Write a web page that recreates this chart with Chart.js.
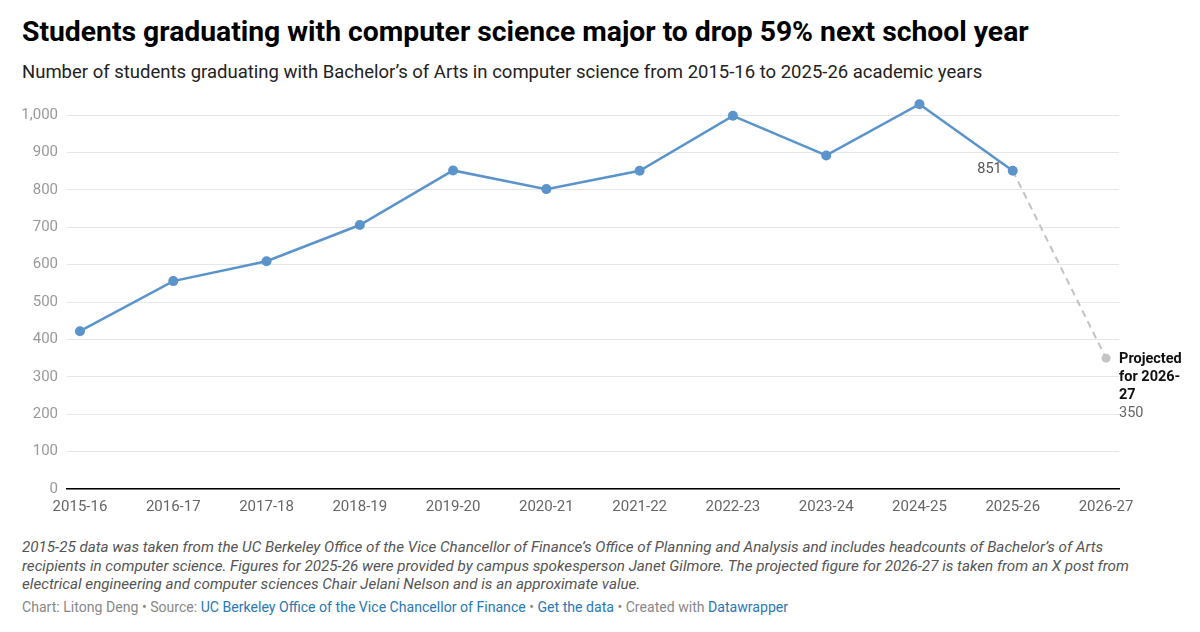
<!DOCTYPE html>
<html>
<head>
<meta charset="utf-8">
<script src="https://cdn.jsdelivr.net/npm/chart.js@4"></script>
<style>
  html, body { margin: 0; padding: 0; background: #fff; }
  body { width: 1200px; height: 632px; position: relative; overflow: hidden; font-family: Roboto, "Noto Sans", sans-serif; }
  #title { position: absolute; left: 22px; top: 15px; font-size: 28.3px; font-weight: 700; color: #000; white-space: nowrap; }
  #subtitle { position: absolute; left: 22px; top: 61px; font-size: 18.5px; color: #222; white-space: nowrap; }
  #chartwrap { position: absolute; left: 0; top: 84px; width: 1200px; height: 441px; }
  #notes { position: absolute; left: 22px; top: 538px; width: 1140px; font-size: 15.2px; line-height: 18.6px; font-style: italic; color: #555; }
  #footer { position: absolute; left: 22px; top: 599px; font-size: 14.1px; color: #888; white-space: nowrap; }
  #footer a { color: #2a78b5; text-decoration: none; }
</style>
</head>
<body>
<div id="title">Students graduating with computer science major to drop 59% next school year</div>
<div id="subtitle">Number of students graduating with Bachelor’s of Arts in computer science from 2015-16 to 2025-26 academic years</div>
<div id="chartwrap"><canvas id="c" width="1200" height="441"></canvas></div>
<div id="notes">2015-25 data was taken from the UC Berkeley Office of the Vice Chancellor of Finance’s Office of Planning and Analysis and includes headcounts of Bachelor’s of Arts recipients in computer science. Figures for 2025-26 were provided by campus spokesperson Janet Gilmore. The projected figure for 2026-27 is taken from an X post from electrical engineering and computer sciences Chair Jelani Nelson and is an approximate value.</div>
<div id="footer">Chart: Litong Deng • Source: <a>UC Berkeley Office of the Vice Chancellor of Finance</a> • <a>Get the data</a> • Created with <a>Datawrapper</a></div>
<script>
const categories = ["2015-16","2016-17","2017-18","2018-19","2019-20","2020-21","2021-22","2022-23","2023-24","2024-25","2025-26","2026-27"];
const graduates = [422, 556, 609, 706, 852, 802, 851, 998, 892, 1029, 851];
const projected = [851, 350];
const projectedStart = 10;
const yTicks = [0,100,200,300,400,500,600,700,800,900,1000];

const mainData = graduates.map((v, i) => ({x: i, y: v}));
const projData = projected.map((v, i) => ({x: projectedStart + i, y: v}));

const labelPlugin = {
  id: 'labels',
  afterDatasetsDraw(chart) {
    const ctx = chart.ctx;
    const xs = chart.scales.x, ys = chart.scales.y;
    ctx.save();
    const lastIdx = graduates.length - 1;
    const px = xs.getPixelForValue(lastIdx), py = ys.getPixelForValue(graduates[lastIdx]);
    ctx.font = '14.5px Roboto, sans-serif';
    ctx.fillStyle = '#555';
    ctx.textAlign = 'right';
    ctx.textBaseline = 'middle';
    ctx.fillText(String(graduates[lastIdx]), px - 11, py - 1);
    const qi = projectedStart + projected.length - 1;
    const qx = xs.getPixelForValue(qi), qy = ys.getPixelForValue(projected[projected.length - 1]);
    ctx.textAlign = 'left';
    ctx.font = 'bold 14.5px Roboto, sans-serif';
    ctx.fillStyle = '#111';
    const lines = ['Projected', 'for 2026-', '27'];
    lines.forEach((l, k) => ctx.fillText(l, qx + 13, qy + 1 + k * 18));
    ctx.font = '14.5px Roboto, sans-serif';
    ctx.fillStyle = '#666';
    ctx.fillText(String(projected[projected.length - 1]), qx + 13, qy + 1 + 3 * 18);
    ctx.restore();
  }
};

new Chart(document.getElementById('c'), {
  type: 'line',
  data: {
    datasets: [
      {
        data: mainData,
        borderColor: '#5a94cb',
        backgroundColor: '#5a94cb',
        borderWidth: 2.5,
        pointRadius: 5,
        pointHoverRadius: 5,
        pointBorderWidth: 0,
        order: 0,
        clip: false
      },
      {
        data: projData,
        borderColor: '#c4c4c4',
        backgroundColor: '#c4c4c4',
        borderWidth: 2,
        borderDash: [7, 5],
        pointRadius: [0, 4.5],
        pointBorderWidth: 0,
        order: 1,
        clip: false
      }
    ]
  },
  options: {
    responsive: false,
    animation: false,
    events: [],
    layout: { padding: { top: 6.4, left: 0, right: 81, bottom: 0 } },
    plugins: { legend: { display: false }, tooltip: { enabled: false } },
    scales: {
      x: {
        type: 'linear',
        min: -0.139,
        max: 11.139,
        afterBuildTicks(scale) { scale.ticks = categories.map((_, i) => ({ value: i })); },
        afterFit(scale) { scale.height = 36; },
        ticks: {
          callback: (v) => categories[v],
          color: '#666',
          font: { family: 'Roboto', size: 15 },
          padding: 9,
          maxRotation: 0,
          autoSkip: false
        },
        grid: { display: false, drawTicks: false },
        border: { display: true, color: '#000', width: 1.5 }
      },
      y: {
        min: 0,
        max: 1035,
        afterBuildTicks(scale) { scale.ticks = yTicks.map(v => ({ value: v })); },
        afterFit(scale) { scale.width = 67; },
        ticks: {
          callback: (v) => v.toLocaleString('en-US'),
          color: '#999',
          font: { family: 'Roboto', size: 15 },
          padding: 9
        },
        grid: { color: '#e6e6e6', lineWidth: 1, drawTicks: false },
        border: { display: false }
      }
    }
  },
  plugins: [labelPlugin]
});
</script>
</body>
</html>
